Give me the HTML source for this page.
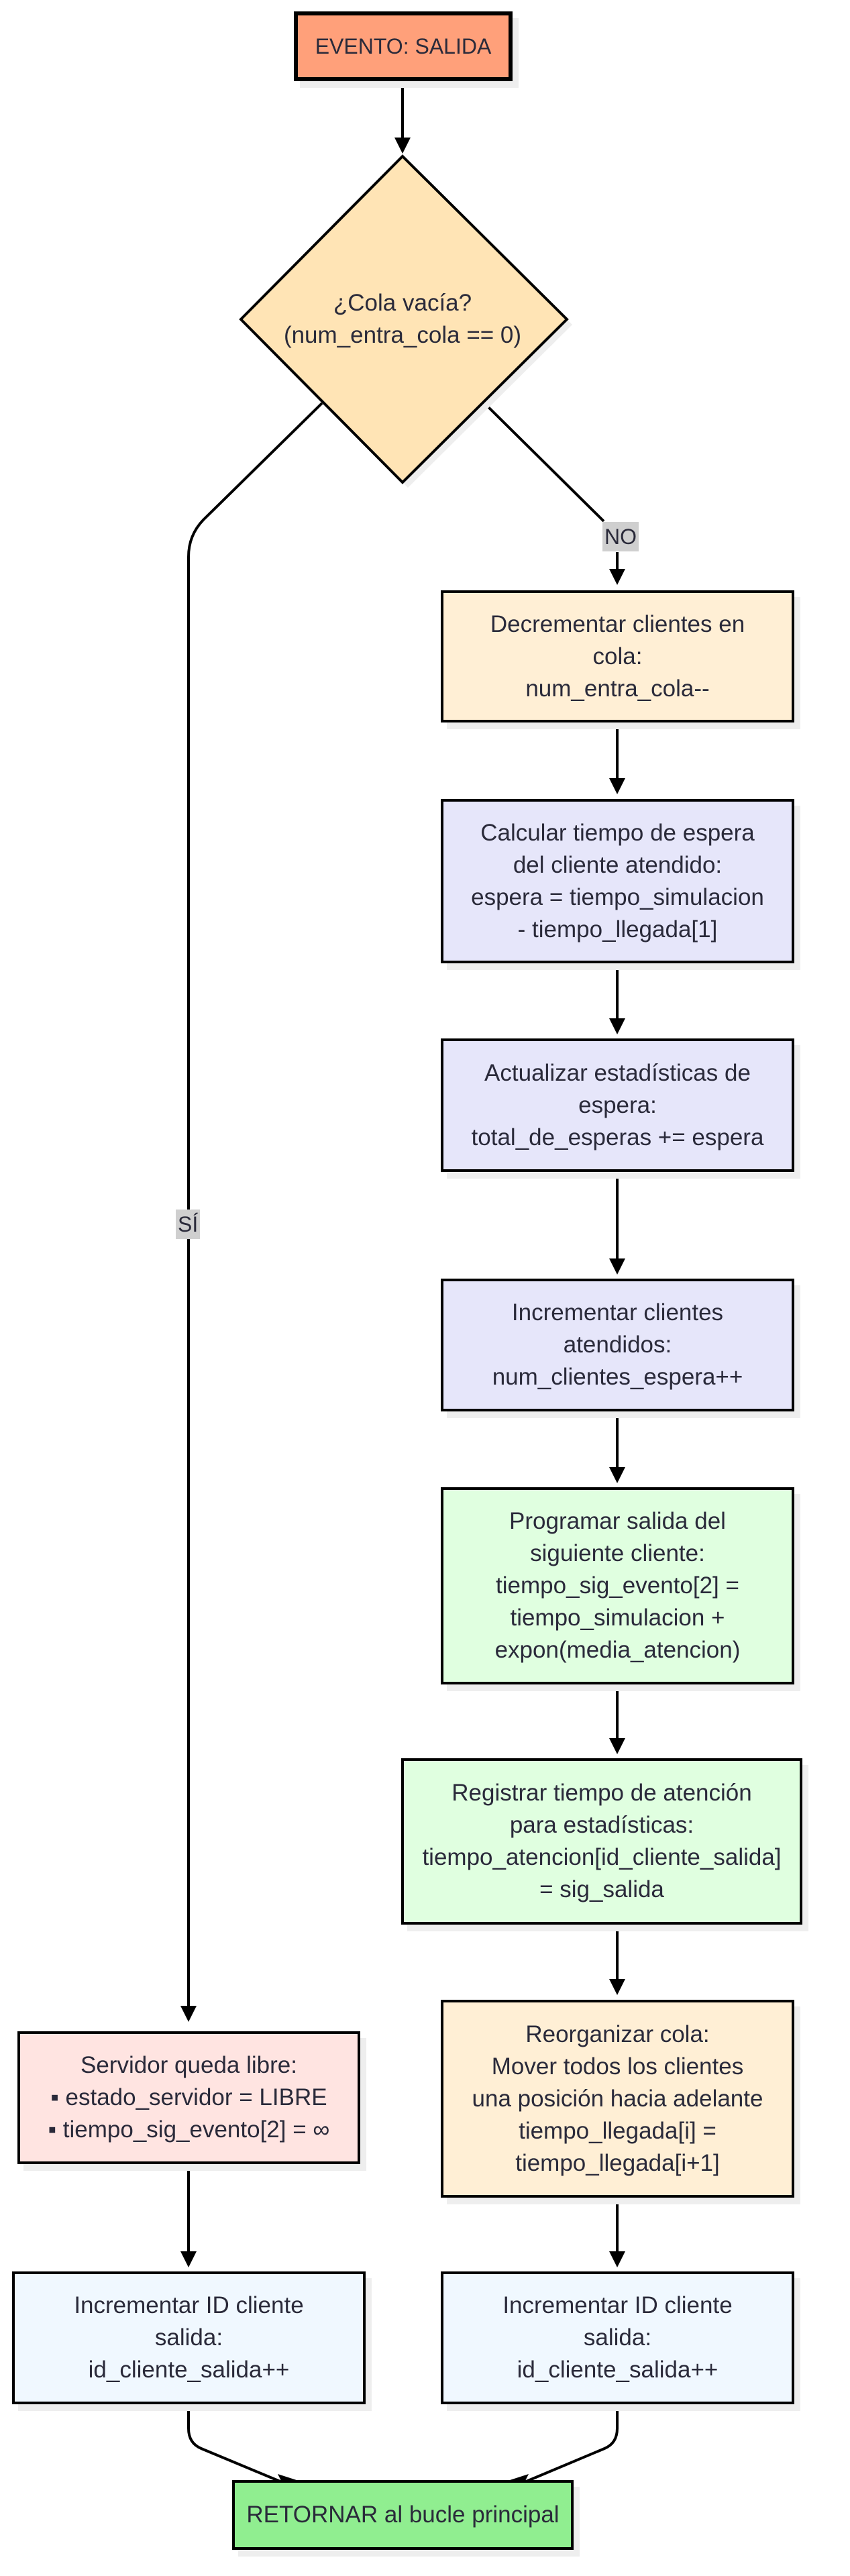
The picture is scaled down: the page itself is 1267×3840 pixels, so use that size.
<!DOCTYPE html>
<html><head><meta charset="utf-8"><style>
body{margin:0;width:1267px;height:3840px;background:#fff;position:relative;overflow:hidden;font-family:"Liberation Sans","DejaVu Sans",sans-serif;color:#2a2a3a}
.b{position:absolute;box-sizing:border-box;border:4px solid #000;display:flex;align-items:center;justify-content:center;text-align:center;font-size:35px;line-height:48px;box-shadow:9px 10px 0 #eeeeee;white-space:nowrap}
svg{position:absolute;left:0;top:0}
.lbl{position:absolute;background:#cfcfcf;font-size:32px;line-height:44px;padding:0 3px}
</style></head><body>
<svg width="1267" height="3840">
<g stroke="#000" stroke-width="4" fill="none">
<path d="M600 121 V205"/>
<path d="M480 601 L303 775 Q281 798 281 830 V2990"/>
<path d="M722 601 L900 777"/>
<path d="M920 823 V848"/>
<path d="M920 1077 V1160"/><path d="M920 1436 V1518"/><path d="M920 1747 V1876"/><path d="M920 2104 V2187"/><path d="M920 2511 V2591"/><path d="M920 2869 V2950"/><path d="M920 3276 V3356"/>
<path d="M281 3226 V3356"/>
<path d="M281 3584 V3620 Q281 3642 300 3650 L420 3700"/>
<path d="M920 3584 V3620 Q920 3642 901 3650 L782 3700"/>
</g>
<polygon points="845,476 600,719 608,727 853,484" fill="#eee"/>
<polygon points="359,476 600,233 845,476 600,719" fill="#FFE4B5" stroke="#000" stroke-width="4"/>
<g fill="#000">
<polygon points="588,205 612,205 600,229"/>
<polygon points="908,848 932,848 920,872"/>
<polygon points="908,1160 932,1160 920,1184"/><polygon points="908,1518 932,1518 920,1542"/><polygon points="908,1876 932,1876 920,1900"/><polygon points="908,2187 932,2187 920,2211"/><polygon points="908,2591 932,2591 920,2615"/><polygon points="908,2950 932,2950 920,2974"/><polygon points="908,3356 932,3356 920,3380"/>
<polygon points="269,2990 293,2990 281,3014"/><polygon points="269,3356 293,3356 281,3380"/>
<polygon points="414,3688 426,3712 442,3697"/>
<polygon points="788,3688 776,3712 760,3697"/>
</g>
</svg>
<div class="b" style="left:438px;top:17px;width:326px;height:104px;border-width:6px;background:#FFA07A;font-size:32px">EVENTO: SALIDA</div>
<div style="position:absolute;left:380px;top:428px;width:440px;text-align:center;font-size:35px;line-height:48px">¿Cola vacía?<br>(num_entra_cola == 0)</div>
<div class="lbl" style="left:898px;top:778px">NO</div>
<div class="lbl" style="left:262px;top:1803px">SÍ</div>
<div class="b" style="left:657px;top:880px;width:527px;height:197px;background:#FFEFD5">Decrementar clientes en<br>cola:<br>num_entra_cola--</div>
<div class="b" style="left:657px;top:1191px;width:527px;height:245px;background:#E6E6FA">Calcular tiempo de espera<br>del cliente atendido:<br>espera = tiempo_simulacion<br>- tiempo_llegada[1]</div>
<div class="b" style="left:657px;top:1548px;width:527px;height:199px;background:#E6E6FA">Actualizar estadísticas de<br>espera:<br>total_de_esperas += espera</div>
<div class="b" style="left:657px;top:1906px;width:527px;height:198px;background:#E6E6FA">Incrementar clientes<br>atendidos:<br>num_clientes_espera++</div>
<div class="b" style="left:657px;top:2217px;width:527px;height:294px;background:#E0FFE0">Programar salida del<br>siguiente cliente:<br>tiempo_sig_evento[2] =<br>tiempo_simulacion +<br>expon(media_atencion)</div>
<div class="b" style="left:598px;top:2621px;width:598px;height:248px;background:#E0FFE0">Registrar tiempo de atención<br>para estadísticas:<br>tiempo_atencion[id_cliente_salida]<br>= sig_salida</div>
<div class="b" style="left:657px;top:2981px;width:527px;height:295px;background:#FFEFD5">Reorganizar cola:<br>Mover todos los clientes<br>una posición hacia adelante<br>tiempo_llegada[i] =<br>tiempo_llegada[i+1]</div>
<div class="b" style="left:26px;top:3028px;width:511px;height:198px;background:#FFE4E1">Servidor queda libre:<br>▪ estado_servidor = LIBRE<br>▪ tiempo_sig_evento[2] = ∞</div>
<div class="b" style="left:18px;top:3386px;width:527px;height:198px;background:#F0F8FF">Incrementar ID cliente<br>salida:<br>id_cliente_salida++</div>
<div class="b" style="left:657px;top:3386px;width:527px;height:198px;background:#F0F8FF">Incrementar ID cliente<br>salida:<br>id_cliente_salida++</div>
<div class="b" style="left:346px;top:3697px;width:509px;height:104px;background:#90EE90">RETORNAR al bucle principal</div>
</body></html>
